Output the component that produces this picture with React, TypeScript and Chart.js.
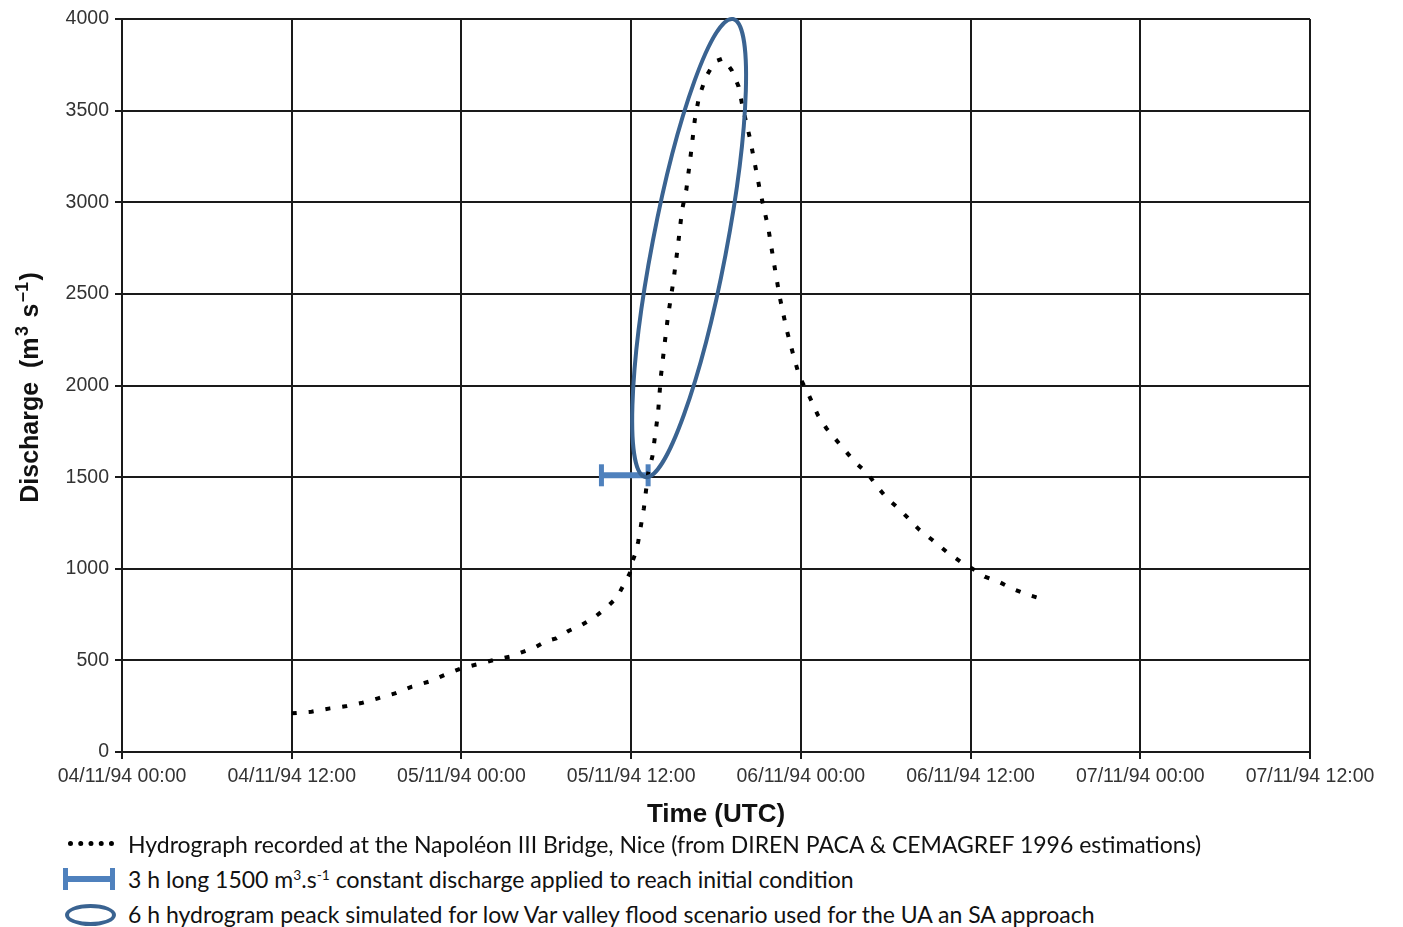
import React, { useEffect, useRef } from "react";
import { Chart, registerables } from "chart.js";

Chart.register(...registerables);

// ---- Data (hours since 04/11/94 00:00 UTC, discharge m3/s) ----
const hoursObserved = [
  12.0, 13.4, 14.7, 15.9, 17.0, 18.1, 19.3, 20.5, 21.7, 22.8, 24.0, 25.2, 26.3, 27.4, 28.5,
  29.3, 30.0, 30.7, 31.6, 32.5, 33.4, 34.2, 35.0, 35.4, 35.9, 36.0, 36.3, 36.5, 36.9, 37.2,
  37.5, 37.9, 38.1, 38.4, 38.6, 39.0, 39.3, 39.6, 39.9, 40.2, 40.5, 40.8, 41.3, 41.9, 42.5,
  43.1, 43.6, 43.9, 44.4, 45.1, 45.7, 46.1, 46.5, 47.0, 47.5, 47.9, 48.5, 49.2, 49.8, 50.4,
  51.1, 51.8, 52.7, 53.4, 54.1, 54.9, 55.6, 56.4, 57.3, 58.3, 59.3, 60.1, 61.0, 62.0, 62.9,
  64.1, 65.3,
];
const dischargeObserved = [
  211, 220, 238, 251, 269, 293, 320, 357, 384, 420, 457, 480, 502, 520, 551,
  575, 605, 620, 662, 693, 735, 784, 844, 902, 975, 1020, 1084, 1148, 1330, 1521,
  1612, 1848, 2048, 2248, 2375, 2576, 2757, 2958, 3067, 3249, 3449, 3576, 3685, 3767, 3785,
  3722, 3631, 3513, 3349, 3067, 2858, 2667, 2485, 2303, 2157, 2048, 1958, 1839, 1767, 1712,
  1648, 1584, 1521, 1448, 1384, 1330, 1275, 1211, 1157, 1093, 1038, 1002, 957, 929, 893,
  857, 829,
];

// 3 h constant discharge (initial condition)
const constantHours = [33.9, 37.2];
const constantDischarge = [1510, 1510];

// 6 h simulated peak (ellipse end points)
const peakHours = [37.0, 43.2];
const peakDischarge = [1500, 4000];

// Axes
const xTickHours = [0, 12, 24, 36, 48, 60, 72, 84];
const yMin = 0;
const yMax = 4000;
const yStep = 500;

const xTitle = "Time (UTC)";
const yTitleParts = [
  { text: "Discharge  (m", sup: false },
  { text: "3", sup: true },
  { text: " s", sup: false },
  { text: "–1", sup: true },
  { text: ")", sup: false },
];

const legendLabels = [
  "Hydrograph recorded at the Napoléon III Bridge, Nice (from DIREN PACA & CEMAGREF 1996 estimations)",
  "3 h long 1500 m³.s⁻¹ constant discharge applied to reach initial condition",
  "6 h hydrogram peack simulated for low Var valley flood scenario used for the UA an SA approach",
];

// ---- Styles ----
const GRID = "#1a1a1a";
const BAR_BLUE = "#4F81BD";
const ELLIPSE_BLUE = "#3A6391";
const ELLIPSE_HALF_WIDTH = 37;
const AXIS_FONT = "'Liberation Sans', Arial, sans-serif";

const pad2 = (n: number) => (n < 10 ? "0" + n : String(n));
const fmtHour = (h: number) => {
  const day = 4 + Math.floor(h / 24);
  const hr = h % 24;
  return `${pad2(day)}/11/94 ${pad2(hr)}:00`;
};

const ellipsePlugin = {
  id: "peakEllipse",
  afterDatasetsDraw(chart: any) {
    const { ctx, scales } = chart;
    const x = scales.x;
    const y = scales.y;
    const x1 = x.getPixelForValue(peakHours[0]);
    const y1 = y.getPixelForValue(peakDischarge[0]);
    const x2 = x.getPixelForValue(peakHours[1]);
    const y2 = y.getPixelForValue(peakDischarge[1]);
    const cx = (x1 + x2) / 2;
    const cy = (y1 + y2) / 2;
    const a = Math.hypot(x2 - x1, y2 - y1) / 2;
    const rot = Math.atan2(y2 - y1, x2 - x1);
    ctx.save();
    ctx.beginPath();
    ctx.ellipse(cx, cy, a, ELLIPSE_HALF_WIDTH, rot, 0, Math.PI * 2);
    ctx.strokeStyle = ELLIPSE_BLUE;
    ctx.lineWidth = 4;
    ctx.stroke();
    ctx.restore();
  },
};

const yTitlePlugin = {
  id: "yTitleSup",
  afterDraw(chart: any) {
    const { ctx, chartArea } = chart;
    const cy = (chartArea.top + chartArea.bottom) / 2 + 2;
    const mainFont = `bold 25px ${AXIS_FONT}`;
    const supFont = `bold 18px ${AXIS_FONT}`;
    ctx.save();
    const widths = yTitleParts.map((p) => {
      ctx.font = p.sup ? supFont : mainFont;
      return ctx.measureText(p.text).width + (p.sup ? 3 : 0);
    });
    const total = widths.reduce((s, w) => s + w, 0);
    ctx.translate(38, cy);
    ctx.rotate(-Math.PI / 2);
    ctx.fillStyle = "#111";
    ctx.textBaseline = "alphabetic";
    ctx.textAlign = "left";
    let px = -total / 2;
    yTitlePlugin;
    yTitleParts.forEach((p, i) => {
      ctx.font = p.sup ? supFont : mainFont;
      ctx.fillText(p.text, px + (p.sup ? 1.5 : 0), p.sup ? -10 : 0);
      px += widths[i];
    });
    ctx.restore();
  },
};

function ChartView() {
  const ref = useRef<HTMLCanvasElement | null>(null);
  useEffect(() => {
    if (!ref.current) return;
    const chart = new Chart(ref.current, {
      type: "line",
      data: {
        datasets: [
          {
            label: "observed",
            data: hoursObserved.map((h, i) => ({ x: h, y: dischargeObserved[i] })),
            borderColor: "#000",
            borderWidth: 4,
            borderDash: [5, 12],
            pointRadius: 0,
            tension: 0,
            fill: false,
          },
          {
            label: "constant",
            data: constantHours.map((h, i) => ({ x: h, y: constantDischarge[i] })),
            borderColor: BAR_BLUE,
            borderWidth: 6,
            pointStyle: "line",
            rotation: 90,
            pointRadius: 11,
            pointBorderWidth: 5,
            pointBorderColor: BAR_BLUE,
            pointBackgroundColor: BAR_BLUE,
            fill: false,
          } as any,
        ],
      },
      options: {
        responsive: false,
        animation: false,
        events: [],
        layout: { padding: { top: 19, right: 93, left: 0, bottom: 0 } },
        plugins: { legend: { display: false }, tooltip: { enabled: false } },
        scales: {
          x: {
            type: "linear",
            min: xTickHours[0],
            max: xTickHours[xTickHours.length - 1],
            afterBuildTicks: (scale: any) => {
              scale.ticks = xTickHours.map((v) => ({ value: v }));
            },
            afterFit: (scale: any) => {
              scale.height = 88;
            },
            grid: { color: GRID, lineWidth: 2, tickLength: 7, drawTicks: true },
            border: { color: GRID, width: 2 },
            ticks: {
              callback: (v: any) => fmtHour(Number(v)),
              color: "#333",
              font: { family: AXIS_FONT, size: 19.5 },
              maxRotation: 0,
              autoSkip: false,
              padding: 6,
            },
            title: {
              display: true,
              text: xTitle,
              color: "#111",
              font: { family: AXIS_FONT, size: 26, weight: "bold" },
              padding: { top: 4, bottom: 10 },
            },
          },
          y: {
            type: "linear",
            min: yMin,
            max: yMax,
            afterFit: (scale: any) => {
              scale.width = 122;
            },
            grid: { color: GRID, lineWidth: 2, tickLength: 7, drawTicks: true },
            border: { color: GRID, width: 2 },
            ticks: {
              stepSize: yStep,
              callback: (v: any) => String(v),
              color: "#333",
              font: { family: AXIS_FONT, size: 19.5 },
              padding: 6,
            },
            title: { display: false },
          },
        },
      },
      plugins: [ellipsePlugin, yTitlePlugin],
    } as any);
    return () => chart.destroy();
  }, []);
  return <canvas ref={ref} width={1403} height={840} style={{ display: "block" }} />;
}

const legendText: React.CSSProperties = {
  position: "absolute",
  left: 128,
  fontFamily: "Lato, 'Open Sans', sans-serif",
  fontSize: 23,
  color: "#111",
  whiteSpace: "nowrap",
  lineHeight: "24px",
};

const supStyle: React.CSSProperties = { fontSize: "0.6em", lineHeight: 0, verticalAlign: "0.6em" };

export default function App() {
  return (
    <div style={{ position: "absolute", left: 0, top: 0, width: 1403, height: 927, background: "#fff", overflow: "hidden" }}>
      <ChartView />
      {/* Row 1: dotted symbol */}
      <div style={{ position: "absolute", left: 68, top: 841, width: 46, height: 0, borderTop: "5px dotted #000" }} />
      <div style={{ ...legendText, top: 832 }}>{legendLabels[0]}</div>
      {/* Row 2: bar with caps */}
      <div style={{ position: "absolute", left: 63, top: 876, width: 52, height: 6, background: BAR_BLUE }} />
      <div style={{ position: "absolute", left: 63, top: 868, width: 5, height: 22, background: BAR_BLUE }} />
      <div style={{ position: "absolute", left: 110, top: 868, width: 5, height: 22, background: BAR_BLUE }} />
      <div style={{ ...legendText, top: 867 }}>
        3 h long 1500 m<span style={supStyle}>3</span>.s<span style={supStyle}>-1</span> constant discharge applied to reach initial condition
      </div>
      {/* Row 3: ellipse */}
      <div style={{ position: "absolute", left: 65, top: 904, width: 43, height: 14, border: `4px solid ${ELLIPSE_BLUE}`, borderRadius: "50%" }} />
      <div style={{ ...legendText, top: 902 }}>{legendLabels[2]}</div>
    </div>
  );
}
